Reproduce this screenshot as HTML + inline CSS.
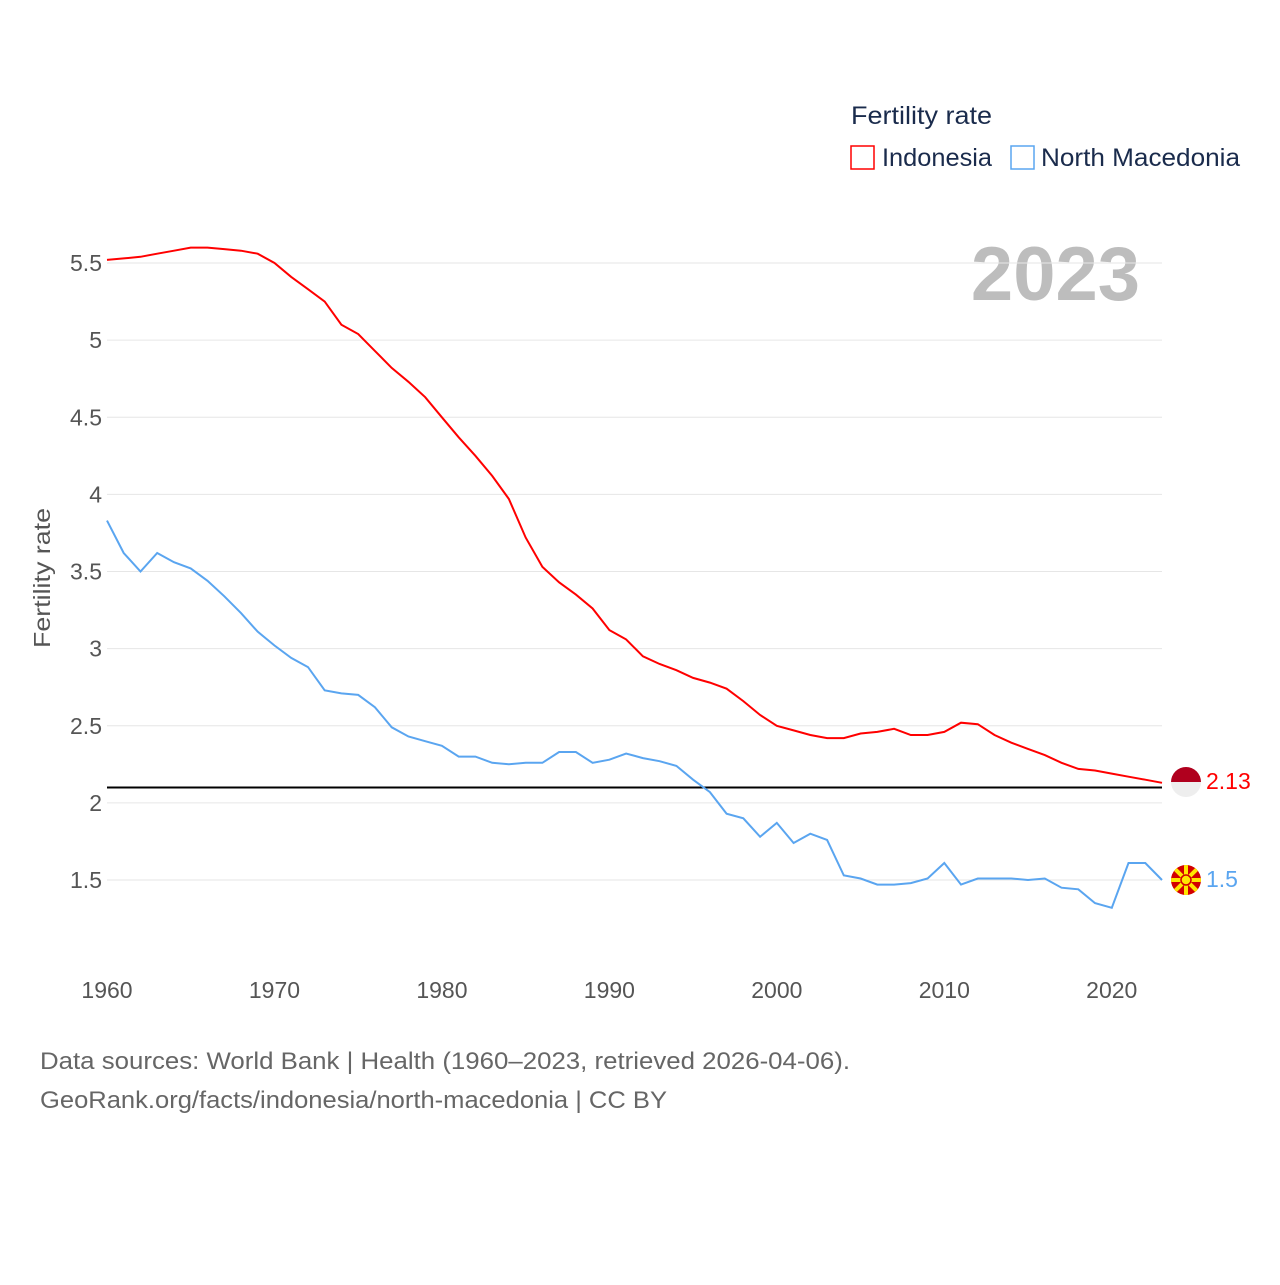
<!DOCTYPE html>
<html><head><meta charset="utf-8"><style>
body{margin:0;background:#fff;font-family:"Liberation Sans",sans-serif}
</style></head><body>
<svg id="chart" width="1280" height="1280" xmlns="http://www.w3.org/2000/svg" font-family="Liberation Sans, sans-serif">
<rect width="1280" height="1280" fill="#fff"/>
<text x="851" y="124" font-size="25" fill="#1a2b4c" textLength="141" lengthAdjust="spacingAndGlyphs">Fertility rate</text>
<g><rect x="851" y="146" width="23" height="23" fill="none" stroke="#ff0000" stroke-width="1.5"/><text x="882" y="166" font-size="25" fill="#1a2b4c" textLength="110" lengthAdjust="spacingAndGlyphs">Indonesia</text></g>
<g><rect x="1011" y="146" width="23" height="23" fill="none" stroke="#5aa5f0" stroke-width="1.5"/><text x="1041" y="166" font-size="25" fill="#1a2b4c" textLength="199" lengthAdjust="spacingAndGlyphs">North Macedonia</text></g>
<text x="1140" y="300" font-size="76" font-weight="bold" fill="#bdbdbd" text-anchor="end">2023</text>
<text transform="translate(50,578) rotate(-90)" font-size="23" fill="#555" text-anchor="middle" textLength="140" lengthAdjust="spacingAndGlyphs">Fertility rate</text>
<g id="grid"></g><g id="yt"></g><g id="xt"></g>
<line id="ref" x1="107" x2="1162" stroke="#000" stroke-width="2"/>
<path id="l-id" fill="none" stroke="#ff0000" stroke-width="2"/>
<path id="l-mk" fill="none" stroke="#5aa5f0" stroke-width="2"/>
<g id="flag-id"><clipPath id="c1"><circle cx="1186" cy="782" r="15"/></clipPath><g clip-path="url(#c1)"><rect x="1170" y="766" width="32" height="16" fill="#b0001e"/><rect x="1170" y="782" width="32" height="16" fill="#eee"/></g></g>
<g><clipPath id="c2"><circle cx="1186" cy="880" r="15"/></clipPath><g clip-path="url(#c2)"><rect x="1170" y="864" width="32" height="32" fill="#d20000"/><g stroke="#ffe600" stroke-width="4"><line x1="1170" y1="880" x2="1202" y2="880"/><line x1="1186" y1="864" x2="1186" y2="896"/><line x1="1172" y1="866" x2="1200" y2="894"/><line x1="1200" y1="866" x2="1172" y2="894"/></g><circle cx="1186" cy="880" r="5" fill="#ffe600" stroke="#d20000" stroke-width="1.5"/></g></g>
<text x="1206" y="789" font-size="23" fill="#ff0000">2.13</text>
<text x="1206" y="887" font-size="23" fill="#5aa5f0">1.5</text>
<text x="40" y="1069" font-size="24" fill="#666" textLength="810" lengthAdjust="spacingAndGlyphs">Data sources: World Bank | Health (1960–2023, retrieved 2026-04-06).</text>
<text x="40" y="1108" font-size="24" fill="#666" textLength="627" lengthAdjust="spacingAndGlyphs">GeoRank.org/facts/indonesia/north-macedonia | CC BY</text>
</svg>
<script>
const years=[];for(let y=1960;y<=2023;y++)years.push(y);
const indonesia=[5.52,5.53,5.54,5.56,5.58,5.60,5.60,5.59,5.58,5.56,5.50,5.41,5.33,5.25,5.10,5.04,4.93,4.82,4.73,4.63,4.50,4.37,4.25,4.12,3.97,3.72,3.53,3.43,3.35,3.26,3.12,3.06,2.95,2.90,2.86,2.81,2.78,2.74,2.66,2.57,2.50,2.47,2.44,2.42,2.42,2.45,2.46,2.48,2.44,2.44,2.46,2.52,2.51,2.44,2.39,2.35,2.31,2.26,2.22,2.21,2.19,2.17,2.15,2.13];
const northMacedonia=[3.83,3.62,3.50,3.62,3.56,3.52,3.44,3.34,3.23,3.11,3.02,2.94,2.88,2.73,2.71,2.70,2.62,2.49,2.43,2.40,2.37,2.30,2.30,2.26,2.25,2.26,2.26,2.33,2.33,2.26,2.28,2.32,2.29,2.27,2.24,2.15,2.07,1.93,1.90,1.78,1.87,1.74,1.80,1.76,1.53,1.51,1.47,1.47,1.48,1.51,1.61,1.47,1.51,1.51,1.51,1.50,1.51,1.45,1.44,1.35,1.32,1.61,1.61,1.50];
const yTicks=[1.5,2,2.5,3,3.5,4,4.5,5,5.5];
const xTicks=[1960,1970,1980,1990,2000,2010,2020];
const refValue=2.1;
const X=y=>107+(y-1960)*(1055/63);
const Y=v=>263+(5.5-v)*154.25;
const NS="http://www.w3.org/2000/svg";
const g=document.getElementById('grid'),yt=document.getElementById('yt'),xt=document.getElementById('xt');
yTicks.forEach(t=>{
 const l=document.createElementNS(NS,'line');
 l.setAttribute('x1',107);l.setAttribute('x2',1162);l.setAttribute('y1',Y(t));l.setAttribute('y2',Y(t));
 l.setAttribute('stroke','#e6e6e6');
 
 
 g.appendChild(l);
 const s=document.createElementNS(NS,'text');
 s.setAttribute('x',102);s.setAttribute('y',Y(t)+8);s.setAttribute('text-anchor','end');
 s.setAttribute('font-size','23');s.setAttribute('fill','#555');s.textContent=String(t);
 
 
 yt.appendChild(s);
});
xTicks.forEach(t=>{
 const s=document.createElementNS(NS,'text');
 s.setAttribute('x',X(t));s.setAttribute('y',998);s.setAttribute('text-anchor','middle');
 s.setAttribute('font-size','23');s.setAttribute('fill','#555');s.textContent=String(t);
 
 
 xt.appendChild(s);
});
const r=document.getElementById('ref');r.setAttribute('y1',Y(refValue));r.setAttribute('y2',Y(refValue));
const path=a=>a.map((v,i)=>(i?'L':'M')+X(years[i]).toFixed(1)+','+Y(v).toFixed(1)).join('');
document.getElementById('l-id').setAttribute('d',path(indonesia));
document.getElementById('l-mk').setAttribute('d',path(northMacedonia));
</script>
</body></html>
